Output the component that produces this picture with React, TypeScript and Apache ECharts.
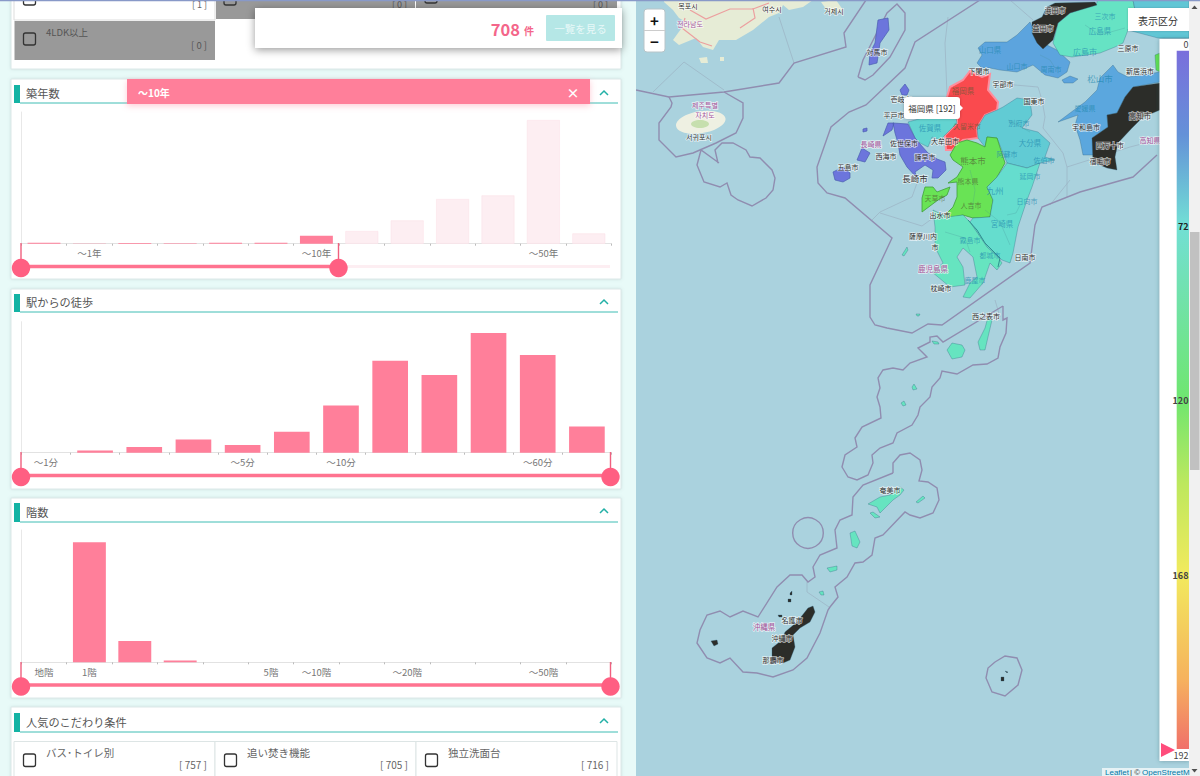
import React, { useEffect, useRef } from "react";
import * as echarts from "echarts";

const JP = '"Noto Sans CJK JP", sans-serif';
const KR = '"Noto Sans CJK KR", sans-serif';

// ---------- bar chart data ----------
const ageCategories = ["", "～1年", "", "", "", "", "～10年", "", "", "", "", "～50年", ""];
const ageValues = [1, 0.3, 0.6, 0.5, 1, 1, 8, 12.7, 23.3, 44.7, 48.3, 123.7, 10.3];
const ageSelectedUpTo = 6;
const walkCategories = ["～1分", "", "", "", "～5分", "", "～10分", "", "", "", "～60分", ""];
const walkValues = [0, 2.3, 5.7, 13.3, 7.7, 21, 47.3, 92, 77.7, 119.7, 97.7, 26.3];
const floorCategories = ["地階", "1階", "", "", "", "5階", "～10階", "", "～20階", "", "", "～50階", ""];
const floorValues = [0, 120, 21.3, 1.7, 0, 0, 0, 0, 0, 0, 0, 0, 0];

// ---------- map data ----------
const prefectureValues = [
  { name: "福岡県", value: 192 }, { name: "佐賀県", value: 66 }, { name: "長崎県", value: 10 },
  { name: "熊本県", value: 122 }, { name: "大分県", value: 62 }, { name: "宮崎県", value: 70 },
  { name: "鹿児島県", value: 78 }, { name: "山口県", value: 44 }, { name: "広島県", value: 76 },
  { name: "愛媛県", value: 46 }, { name: "岡山県", value: 60 }, { name: "香川県", value: 120 },
];
const legendTicks = ["0", "72", "120", "168", "192"];

type P = number[][];
const fukuoka: P[] = [[[970,71],[982,77],[990,74],[988,90],[998,102],[997,110],[985,115],[977,128],[978,138],[963,140],[952,150],[946,150],[945,135],[957,123],[957,112],[947,97],[950,87],[963,80]]];
const saga: P[] = [[[908,122],[933,115],[955,113],[957,123],[945,135],[940,140],[932,137],[928,147],[920,143],[915,138]]];
const nagasaki: P[] = [
  [[893,123],[908,124],[915,138],[920,144],[928,153],[937,159],[945,162],[946,170],[938,178],[932,178],[933,170],[925,165],[915,172],[917,178],[907,167],[900,155],[898,143],[895,133]],
  [[883,136],[888,123],[894,123],[892,130]],
  [[833,172],[843,167],[850,173],[850,178],[843,182],[835,180]],
  [[857,160],[862,148],[870,153],[865,162]],
  [[878,20],[888,18],[889,30],[880,43],[877,63],[869,65],[870,53],[875,43]],
  [[900,90],[905,84],[909,90],[907,95],[902,95]],
  [[863,129],[867,128],[867,131],[863,132]],
];
const oita: P[] = [[[977,128],[985,115],[997,110],[1003,107],[1017,98],[1030,100],[1032,115],[1022,128],[1038,132],[1050,143],[1045,157],[1055,160],[1040,163],[1027,168],[1007,163],[997,138],[987,137],[985,147],[978,138]]];
const kumamoto: P[] = [
  [[957,143],[967,140],[977,143],[985,147],[987,137],[997,138],[1005,163],[997,177],[987,187],[993,200],[990,217],[973,218],[963,215],[948,218],[947,213],[953,207],[957,197],[957,182],[948,183],[957,177],[963,167],[953,160],[950,155]],
  [[925,187],[933,187],[937,192],[950,187],[947,195],[938,200],[922,212],[922,198]],
];
const miyazaki: P[] = [[[1007,163],[1027,168],[1040,163],[1032,187],[1027,200],[1018,227],[1013,253],[1010,263],[1002,260],[998,257],[987,247],[970,222],[973,218],[990,217],[993,200],[987,187],[997,177]]];
const kagoshima: P[] = [
  [[933,210],[947,217],[963,215],[970,222],[987,247],[998,257],[1002,263],[997,270],[990,263],[983,283],[970,298],[963,297],[970,283],[977,277],[973,257],[963,248],[957,257],[963,267],[965,285],[950,287],[932,272],[943,263],[935,247],[935,227]],
  [[902,255],[907,247],[908,250],[904,256]],
  [[980,350],[978,342],[985,328],[988,317],[992,320],[988,337],[985,350]],
  [[947,350],[952,343],[962,345],[965,350],[962,357],[952,359]],
  [[932,341],[938,342],[939,344],[934,344]],
  [[916,314],[920,314],[919,316],[917,316]],
  [[912,387],[914,384],[917,389],[913,390]],
  [[901,403],[904,401],[906,405],[903,406]],
  [[868,504],[880,497],[890,495],[900,487],[904,490],[900,495],[893,500],[885,508],[880,513],[877,507]],
  [[870,513],[873,512],[880,517],[875,518]],
  [[916,502],[923,496],[925,498],[918,503]],
  [[850,533],[855,531],[860,542],[857,548],[852,546]],
  [[827,568],[837,566],[837,570],[830,572]],
  [[819,592],[823,591],[824,595],[821,595]],
];
const yamaguchi: P[] = [
  [[978,48],[985,42],[1007,42],[1017,35],[1030,22],[1038,40],[1047,45],[1057,50],[1070,62],[1067,72],[1058,78],[1045,75],[1033,65],[1017,72],[1000,70],[990,68],[982,68],[977,63],[982,55]],
  [[1062,80],[1070,76],[1078,79],[1073,83],[1064,83]],
];
const hiroshima: P[] = [[[1097,3],[1070,13],[1058,23],[1053,43],[1060,55],[1072,57],[1100,53],[1115,47],[1123,43],[1128,30],[1135,10],[1133,0],[1097,0]]];
const okayama: P[] = [[[1133,0],[1189,0],[1189,38],[1158,38],[1128,30],[1135,10]]];
const kagawa: P[] = [[[1155,55],[1160,53],[1160,72],[1156,70]]];
const ehime: P[] = [[[1100,78],[1113,65],[1118,72],[1128,77],[1142,75],[1160,72],[1160,82],[1133,87],[1125,97],[1117,113],[1107,115],[1108,127],[1092,138],[1097,148],[1093,155],[1083,155],[1080,140],[1075,125],[1078,115],[1058,122],[1070,113],[1085,102],[1097,90]]];
const kochi: P[] = [[[1133,87],[1160,83],[1160,110],[1143,117],[1132,128],[1118,143],[1115,157],[1117,170],[1107,168],[1100,165],[1093,163],[1092,138],[1108,127],[1107,115],[1117,113],[1125,97]]];
const shimane: P[] = [[[1055,3],[1095,2],[1097,5],[1070,13],[1058,23],[1053,40],[1043,49],[1037,43],[1032,33],[1032,22],[1042,17],[1047,7]]];
const okinawa: P[] = [
  [[808,608],[813,606],[815,612],[810,622],[800,628],[793,635],[795,647],[790,660],[783,663],[772,662],[772,648],[782,640],[785,632],[797,622]],
  [[711,641],[717,640],[718,644],[714,646]],
  [[778,615],[782,615],[782,617],[779,617]],
  [[790,593],[792,591],[792,595],[790,595]],
  [[788,599],[791,599],[791,602],[788,602]],
  [[1001,677],[1004,677],[1004,681],[1001,681]],
  [[1005,671],[1008,672],[1007,673]],
];
const regionShapes: Record<string, P[]> = {
  福岡県: fukuoka, 佐賀県: saga, 長崎県: nagasaki, 大分県: oita, 熊本県: kumamoto, 宮崎県: miyazaki,
  鹿児島県: kagoshima, 山口県: yamaguchi, 広島県: hiroshima, 岡山県: okayama, 香川県: kagawa,
  愛媛県: ehime, 高知県: kochi, 島根県: shimane, 沖縄県: okinawa,
};

// Maritime boundaries and base-map lines
const seaLines: number[][][] = [
  [[980,0],[915,42],[905,68],[866,105],[849,112],[831,127],[817,167],[818,183],[827,193],[845,198],[892,238],[870,285],[870,317],[875,325],[887,328],[912,333],[928,324],[942,325],[1030,263],[1035,225],[1042,207],[1080,192],[1133,177],[1157,155]],
  [[1003,306],[1003,320],[1007,318],[1006,333],[1000,347],[998,358],[987,364],[973,365],[957,374],[942,371],[940,378],[932,387],[930,397],[920,407],[918,415],[912,425],[897,433],[893,443],[880,448],[872,455],[873,463],[868,475],[857,480],[848,477],[842,467],[845,455],[857,447],[855,438],[862,427],[881,418],[880,407],[877,397],[880,388],[878,378],[883,370],[893,368],[903,370],[910,363],[927,357],[918,348],[930,342],[930,337],[937,336],[943,342],[1003,306]],
  [[893,473],[893,463],[900,455],[910,453],[920,460],[922,470],[919,481],[928,482],[937,488],[939,500],[933,513],[920,518],[910,515],[905,512],[883,535],[875,538],[872,555],[863,562],[855,563],[847,577],[835,587],[838,597],[830,607],[828,610],[820,633],[807,658],[793,670],[773,677],[757,673],[743,672],[730,658],[720,663],[707,658],[697,643],[700,630],[707,615],[720,611],[730,617],[743,611],[758,617],[777,587],[790,575],[802,575],[808,582],[815,577],[813,567],[820,555],[837,548],[835,530],[840,520],[852,515],[853,497],[863,485],[893,473]],
  [[995,662],[1005,656],[1017,658],[1022,670],[1018,685],[1005,696],[992,692],[986,678],[988,668],[995,662]],
  [[636,90],[669,97],[724,92],[779,83],[794,63],[846,47],[844,33],[866,0]],
  [[669,97],[672,103],[671,107],[659,123],[659,140],[676,157],[693,153],[716,143],[736,133],[743,118],[743,103],[724,92]],
  [[858,77],[863,60],[887,13],[897,4],[905,13],[905,30],[890,57],[873,75],[865,80],[858,77]],
  [[719,163],[701,150],[697,165],[704,182],[720,187],[727,183],[731,195],[738,200],[752,206],[766,198],[773,190],[775,178],[772,170],[760,158],[750,157],[746,150],[733,143],[722,143],[715,150],[718,163]],
];
const thinLines: number[][][] = [
  [[653,92],[684,62],[724,90]],
  [[794,63],[779,17]],
  [[947,95],[945,43],[948,17]],
  [[992,83],[1038,87],[1042,100],[1045,117],[1043,128],[1063,153],[1067,167],[1067,197]],
  [[1067,167],[1130,147],[1157,140]],
  [[917,183],[912,197],[880,212],[872,220]],
  [[880,213],[922,226],[933,218]],
  [[1010,0],[1033,20]],
  [[1000,317],[995,300]],
  [[807,582],[807,592],[829,607]],
  [[1050,205],[1070,180]],
];
const prefectureBorders: number[][][] = [
  [[968,220],[977,230],[985,243],[1000,258],[998,267]],
];
const innerLines: number[][][] = [
  [[1007,215],[1016,213],[1020,205]],
  [[985,210],[1000,222],[1010,245]],
  [[945,232],[965,238],[970,252]],
  [[1008,120],[1030,132]],
  [[970,170],[975,190],[972,210]],
  [[1085,25],[1100,35],[1125,28]],
  [[1040,55],[1050,60],[1055,68]],
];
const circleBoundary = [808, 533, 15.3];

// Base-map land of Korea
const koreaLand: number[][][] = [
  [[664,2],[673,10],[679,18],[686,22],[673,40],[679,45],[696,38],[703,47],[713,50],[719,40],[736,40],[753,30],[769,17],[779,13],[783,5],[789,10],[803,7],[813,0],[664,0]],
  [[821,2],[836,0],[843,10],[829,13]],
  [[699,58],[707,57],[708,63],[701,63]],
  [[720,57],[724,57],[724,61],[720,61]],
];
const koreaRoads: number[][][] = [
  [[690,10],[706,19],[730,9],[753,9],[769,3]],
  [[685,18],[682,28],[700,42],[712,46]],
  [[740,28],[755,18],[753,8]],
];

// Map place names: text, x, y, size, colour class
const placeNames: [string, number, number, number, number][] = [
  ["対馬市",877,52,7,0],["壱岐市",901,99,7,0],["平戸市",894,115,7,0],["長崎県",871,144,7,1],
  ["佐世保市",904,143,7,0],["西海市",886,156,7,0],["諫早市",925,157,7,0],["五島市",848,167,7,0],
  ["長崎市",915,178,8.5,0],["佐賀県",930,127,7.5,2],["久留米市",967,126,7,3],["大牟田市",945,141,7,0],
  ["福岡県",963,90,7.5,3],["宇部市",1003,84,7,0],["下関市",979,71,7,0],["山口県",990,49,7.5,2],
  ["山口市",1017,66,7,2],["周南市",1051,69,7,2],["広島県",1100,30,7.5,2],["広島市",1085,51,8,2],
  ["三次市",1105,16,7,2],["三原市",1128,48,7,0],["新居浜市",1140,71,7,0],["松山市",1100,78,8.5,2],
  ["愛媛県",1085,108,7,2],["宇和島市",1086,127,7,0],["四万十市",1110,145,7,0],["高知市",1140,115,7.5,0],
  ["高知県",1150,140,7,1],["宿毛市",1100,161,7,0],["益田市",1043,28,7,0],["浜田市",1055,10,7,0],
  ["国東市",1034,101,7,0],["別府市",1019,123,7,2],["大分県",1030,142,7.5,2],["阿蘇市",1007,154,7,2],
  ["佐伯市",1044,160,7,2],["延岡市",1030,176,7,2],["九州",995,190,8.5,2],["熊本市",973,160,8.5,3],
  ["熊本県",968,181,7,3],["人吉市",971,205,7,3],["天草市",935,198,7,3],["日向市",1027,201,7,2],
  ["宮崎県",1002,223,7.5,2],["霧島市",970,240,7,2],["都城市",990,255,7,2],["日南市",1025,257,7,0],
  ["出水市",940,215,7,0],["薩摩川内",923,236,7,0],["市",935,247,7,0],["鹿児島県",933,268,7.5,1],
  ["枕崎市",941,288,7,0],["鹿屋市",975,280,7,2],["西之表市",986,316,7,0],["奄美市",890,490,7,0],
  ["沖縄県",764,626,7.5,1],["名護市",792,620,7,0],["沖縄市",782,638,7,0],["那覇市",773,660,7,0],
];
const koreanNames: [string, number, number, number, number][] = [
  ["목포시",688,6,7,0],["전라남도",690,24,7,1],["여수시",772,9,7,0],["거제시",834,11,7,0],
  ["제주특별",705,105,7,1],["자치도",705,115,7,1],["서귀포시",699,137,7,0],
];
const placeColours = ["#333", "#a4549a", "rgba(30,135,175,0.7)", "rgba(80,90,50,0.65)"];

// Filter panel content
const checkCells = [
  { x: 14, label: "バス･トイレ別", count: "[ 757 ]" },
  { x: 215, label: "追い焚き機能", count: "[ 705 ]" },
  { x: 416, label: "独立洗面台", count: "[ 716 ]" },
];
const sections = [
  { title: "築年数", top: 85, h: 18 },
  { title: "駅からの徒歩", top: 294, h: 18 },
  { title: "階数", top: 503, h: 19 },
  { title: "人気のこだわり条件", top: 713, h: 19 },
];
const panels = [[-10, 69], [79, 279], [289, 489], [498, 698], [707, 800]];
const sliders = [
  { y: 266.5, from: 21, to: 338.5, top: 243 },
  { y: 475.5, from: 21, to: 610.5, top: 452 },
  { y: 685, from: 21, to: 610.5, top: 662 },
];

const PINK = "#ff7f9a";
const HANDLE = "#ff5f82";
const TEAL = "#14b3a4";

const rect = (x: number, y: number, w: number, h: number, style: any, z = 1, r: any = 0) => ({
  type: "rect", z, silent: true, shape: { x, y, width: w, height: h, r }, style,
});
const txt = (x: number, y: number, text: string, size: number, fill: string, z = 3, extra: any = {}, family = JP) => ({
  type: "text", z, silent: true,
  style: { x, y, text, font: `${extra.weight || "normal"} ${size}px ${family}`, fill, align: extra.align || "left", verticalAlign: "middle", ...(extra.halo ? { stroke: extra.halo, lineWidth: 1.5 } : {}) },
});
const line = (points: number[][], stroke: string, lineWidth: number, z = 1) => ({
  type: "polyline", z, silent: true, shape: { points }, style: { stroke, lineWidth, fill: "none" },
});

function buildGraphics() {
  const g: any[] = [];
  // map base
  g.push(rect(636, 0, 564, 776, { fill: "#aad2de" }, 0));
  koreaLand.forEach((points) => g.push({ type: "polygon", z: 0, silent: true, shape: { points }, style: { fill: "#e6ecd6" } }));
  g.push({ type: "ellipse", z: 0, silent: true, rotation: 0.16, originX: 701, originY: 122, shape: { cx: 701, cy: 122, rx: 25, ry: 11 }, style: { fill: "#eef0e2" } });
  g.push({ type: "ellipse", z: 0, silent: true, shape: { cx: 700, cy: 124, rx: 9, ry: 4 }, style: { fill: "#c6dfae" } });
  koreaRoads.forEach((p) => g.push(line(p, "#ec9f9f", 1.2, 0)));
  thinLines.forEach((p) => g.push(line(p, "#9db6c6", 0.8, 0)));
  seaLines.forEach((p) => g.push(line(p, "#908db0", 1.4, 0)));
  g.push({ type: "circle", z: 0, silent: true, shape: { cx: circleBoundary[0], cy: circleBoundary[1], r: circleBoundary[2] }, style: { fill: "none", stroke: "#908db0", lineWidth: 1.4 } });
  prefectureBorders.forEach((p) => g.push(line(p, "#2f8f8f", 1, 5)));
  innerLines.forEach((p) => g.push(line(p, "rgba(70,140,150,0.35)", 0.7, 5)));

  // left column panels
  g.push(rect(0, 0, 636, 776, { fill: "#e8faf8" }, 0));
  panels.forEach(([a, b]) => g.push(rect(11, a, 610, b - a, { fill: "#fff", stroke: "#dbe8e8", lineWidth: 1, shadowBlur: 3, shadowColor: "rgba(120,150,150,0.25)" }, 0)));
  sections.forEach((s) => {
    g.push(rect(14, s.top, 6, s.h, { fill: TEAL }, 1));
    g.push(line([[20, s.top + s.h], [618, s.top + s.h]], "#3fbdb4", 1, 1));
    g.push(txt(26, s.top + s.h / 2 - 1, s.title, 11.2, "#555"));
    g.push(line([[600, s.top + 10], [604, s.top + 6], [608, s.top + 10]], "#22b0a6", 1.5, 3));
  });
  // top row of filter cells
  g.push(rect(14, -2, 201, 22, { fill: "#fff", stroke: "#ddd" }, 1));
  g.push(rect(216, -2, 199, 21, { fill: "#999" }, 1));
  g.push(rect(416, -2, 201, 10, { fill: "#999" }, 1));
  g.push(rect(14.5, 21, 200.5, 39, { fill: "#999" }, 1));
  g.push(rect(23.5, -8, 12, 13, { fill: "none", stroke: "#333", lineWidth: 1.3 }, 2, 2));
  g.push(rect(224, -8, 12, 13, { fill: "none", stroke: "#333", lineWidth: 1.3 }, 2, 2));
  g.push(rect(425, -8, 12, 11, { fill: "none", stroke: "#333", lineWidth: 1.3 }, 2, 2));
  g.push(rect(23.5, 33, 12, 12, { fill: "none", stroke: "#333", lineWidth: 1.3 }, 2, 2));
  g.push(txt(46, 32, "4LDK以上", 9.5, "#555"));
  g.push(txt(207, 44.5, "[ 0 ]", 9.5, "#555", 3, { align: "right" }));
  g.push(txt(207, 4.5, "[ 1 ]", 9, "#666", 3, { align: "right" }));
  g.push(txt(407, 4.5, "[ 0 ]", 9, "#555", 3, { align: "right" }));
  g.push(txt(608, 4.5, "[ 0 ]", 9, "#555", 3, { align: "right" }));
  // floating result bar
  g.push(rect(255, 8, 367, 40, { fill: "#fff", shadowBlur: 8, shadowOffsetY: 2, shadowColor: "rgba(0,0,0,0.4)" }, 4));
  g.push(txt(520, 28.5, "708", 16.5, "#f4668a", 5, { align: "right", weight: "bold" }));
  g.push(txt(524, 30, "件", 10, "#f4668a", 5, { weight: "bold" }));
  g.push(rect(546, 15, 69, 26, { fill: "#b5e7e6" }, 5, 1));
  g.push(txt(580.5, 28, "一覧を見る", 10.5, "#e8f8f8", 6, { align: "center" }));
  // ~10年 popup
  g.push(rect(127, 79, 463, 25, { fill: PINK, shadowBlur: 6, shadowOffsetY: 2, shadowColor: "rgba(255,127,154,0.4)" }, 4));
  g.push(txt(138, 92.5, "～10年", 10, "#fff", 5, { weight: "bold" }));
  g.push(txt(573, 92, "×", 13, "#fff", 5, { align: "center", weight: "bold" }));
  // sliders
  sliders.forEach((s) => {
    if (s.to < 600) g.push(rect(s.to, s.y - 1.5, 610 - s.to, 3, { fill: "#fdeef2" }, 3));
    g.push(rect(s.from, s.y - 1.7, s.to - s.from, 3.4, { fill: "#ff7390" }, 3));
    [s.from, s.to].forEach((x) => {
      g.push(rect(x - 0.7, s.top, 1.4, s.y - s.top, { fill: "#f0607f" }, 3));
      g.push({ type: "circle", z: 4, silent: true, shape: { cx: x, cy: s.y + 1.5, r: 9.2 }, style: { fill: HANDLE } });
    });
  });
  // check cells of the last panel
  checkCells.forEach((c) => {
    g.push(rect(c.x, 741.5, 201, 50, { fill: "#fff", stroke: "#dde5e5" }, 1));
    g.push(rect(c.x + 9.5, 754, 12, 12.5, { fill: "none", stroke: "#333", lineWidth: 1.3 }, 2, 2));
    g.push(txt(c.x + 32, 752, c.label, 10.5, "#666"));
    g.push(txt(c.x + 193, 764, c.count, 10, "#666", 3, { align: "right" }));
  });
  // top strip
  g.push(rect(0, 0, 1200, 1.3, { fill: "#8899c8" }, 12));
  // map texts
  placeNames.forEach(([t, x, y, s, c]) => g.push(txt(x, y, t, s, placeColours[c], 6, { align: "center", halo: c === 0 || c === 1 ? "rgba(255,255,255,0.65)" : undefined })));
  koreanNames.forEach(([t, x, y, s, c]) => g.push(txt(x, y, t, s, placeColours[c], 6, { align: "center", halo: "rgba(255,255,255,0.7)" }, KR)));
  // tooltip
  g.push(rect(904, 97, 56, 22, { fill: "#fff", shadowBlur: 3, shadowColor: "rgba(0,0,0,0.25)" }, 7, 3));
  g.push({ type: "polygon", z: 7, silent: true, shape: { points: [[960, 105], [963, 108], [960, 111]] }, style: { fill: "#fff" } });
  g.push(txt(932, 108, "福岡県 [192]", 8.5, "#333", 8, { align: "center" }));
  // zoom control
  g.push(rect(644, 9, 21, 43, { fill: "#fff", stroke: "#b8c4c8", lineWidth: 1 }, 7, 3));
  g.push(line([[644, 30.5], [665, 30.5]], "#ccc", 1, 8));
  g.push(txt(654.5, 20, "+", 15, "#111", 8, { align: "center", weight: "bold" }));
  g.push(txt(654.5, 41, "−", 15, "#111", 8, { align: "center", weight: "bold" }));
  // legend panel
  g.push(rect(1128, 8, 61, 23, { fill: "#fff", shadowBlur: 2, shadowColor: "rgba(0,0,0,0.2)" }, 7));
  g.push(txt(1158, 20, "表示区分", 10, "#333", 8, { align: "center" }));
  g.push(rect(1159.5, 39, 30, 722, { fill: "#fff", shadowBlur: 4, shadowColor: "rgba(40,80,90,0.4)" }, 7));
  g.push(rect(1176.7, 50.7, 12.3, 698.3, {
    fill: new echarts.graphic.LinearGradient(0, 0, 0, 1, [
      { offset: 0, color: "#7a6fdc" }, { offset: 0.12, color: "#6491d8" }, { offset: 0.25, color: "#72dfd5" },
      { offset: 0.5, color: "#6fe66f" }, { offset: 0.62, color: "#bde85e" }, { offset: 0.75, color: "#f2ea5e" },
      { offset: 0.9, color: "#f6b25e" }, { offset: 1, color: "#f0706a" },
    ]),
  }, 8));
  const legendY = [44, 226, 400, 575, 755];
  legendTicks.forEach((t, i) => g.push(txt(1188.5, legendY[i], t, 9, i === 1 ? "#222" : "#444", 9, { align: "right", weight: i > 0 && i < 4 ? "bold" : "normal" })));
  g.push({ type: "polygon", z: 9, silent: true, shape: { points: [[1161, 743], [1175, 750], [1161, 757]] }, style: { fill: "#ff4d7c" } });
  // scrollbar
  g.push(rect(1189, 0, 11, 776, { fill: "#f1f1f1" }, 10));
  g.push(rect(1190, 232, 9.5, 238, { fill: "#c1c1c1" }, 11));
  g.push({ type: "polygon", z: 11, silent: true, shape: { points: [[1191.5, 9], [1194.5, 5.5], [1197.5, 9]] }, style: { fill: "#505050" } });
  g.push({ type: "polygon", z: 11, silent: true, shape: { points: [[1191.5, 769], [1194.5, 772.5], [1197.5, 769]] }, style: { fill: "#505050" } });
  // attribution
  g.push(rect(1102, 768, 87, 8, { fill: "rgba(255,255,255,0.7)" }, 9));
  g.push(txt(1105, 772.5, "Leaflet", 8, "#0078A8", 10, {}, '"Liberation Sans", sans-serif'));
  g.push(txt(1130, 772.5, "| ©", 8, "#333", 10, {}, '"Liberation Sans", sans-serif'));
  g.push(txt(1142, 772.5, "OpenStreetM", 8, "#0078A8", 10, {}, '"Liberation Sans", sans-serif'));
  return g;
}

const axisLabel = { interval: 0, fontSize: 9.5, color: "#777", margin: 5, fontFamily: JP };
const grids = [
  { left: 21.3, width: 590.2, top: 112, height: 131.7 },
  { left: 21.3, width: 590.2, top: 321.7, height: 131 },
  { left: 21.3, width: 590.2, top: 530, height: 132.3 },
];
const xAxisOf = (gridIndex: number, data: string[]) => ({
  type: "category", gridIndex, data, boundaryGap: true,
  axisLine: { lineStyle: { color: "#e2e2e2" } },
  axisTick: { show: true, interval: 0, length: 2, lineStyle: { color: "#bbb" } },
  axisLabel, splitLine: { show: false },
});
const yAxisOf = (gridIndex: number) => ({
  type: "value", gridIndex, min: 0, max: grids[gridIndex].height,
  axisLine: { show: true, lineStyle: { color: "#e8e8e8" } },
  axisTick: { show: false }, axisLabel: { show: false }, splitLine: { show: false },
});

const regionStyle = (name: string) => {
  if (name === "福岡県") return { borderColor: "#ff8d9c", borderWidth: 2 };
  if (name === "熊本県") return { borderColor: "#3f9f3a", borderWidth: 0.8 };
  if (name === "長崎県") return { borderColor: "#4a5fb0", borderWidth: 0.7 };
  return {};
};

export default function App() {
  const ref = useRef<HTMLDivElement>(null);
  useEffect(() => {
    document.body.style.margin = "0";
    const features = Object.keys(regionShapes).map((name) => ({
      type: "Feature", properties: { name },
      geometry: { type: "MultiPolygon", coordinates: regionShapes[name].map((ring) => [ring.map(([x, y]) => [x, -y])]) },
    }));
    echarts.registerMap("kyushu", { type: "FeatureCollection", features } as any);
    const chart = echarts.init(ref.current!, undefined, { renderer: "svg" });
    chart.setOption({
      animation: false,
      backgroundColor: "#e8faf8",
      textStyle: { fontFamily: JP },
      grid: grids,
      xAxis: [xAxisOf(0, ageCategories), xAxisOf(1, walkCategories), xAxisOf(2, floorCategories)],
      yAxis: [yAxisOf(0), yAxisOf(1), yAxisOf(2)],
      visualMap: {
        show: false, type: "continuous", min: 0, max: 192, seriesIndex: 3,
        inRange: { color: ["#7068dc", "#6688dc", "#5aaade", "#66e2cc", "#66e89c", "#62e254", "#b6e85a", "#f2e858", "#fa4a4e"] },
      },
      series: [
        {
          type: "bar", xAxisIndex: 0, yAxisIndex: 0, barWidth: "72.5%", silent: true,
          data: ageValues.map((value, i) => ({
            value,
            itemStyle: i <= ageSelectedUpTo ? { color: PINK } : { color: "#fdeef2", borderColor: "#fbe3e9", borderWidth: 0.6 },
          })),
        },
        { type: "bar", xAxisIndex: 1, yAxisIndex: 1, barWidth: "72.5%", silent: true, data: walkValues, itemStyle: { color: PINK } },
        { type: "bar", xAxisIndex: 2, yAxisIndex: 2, barWidth: "72.5%", silent: true, data: floorValues, itemStyle: { color: PINK } },
        {
          type: "map", map: "kyushu", silent: true, roam: false, aspectScale: 1, z: 2,
          boundingCoords: [[636, 0], [1200, -776]],
          left: 636, top: 0, width: 564, height: 776,
          label: { show: false },
          itemStyle: { areaColor: "#2c2d29", borderColor: "rgba(45,95,125,0.45)", borderWidth: 0.7 },
          data: prefectureValues.map((d) => ({ ...d, itemStyle: regionStyle(d.name) })),
        },
      ],
      graphic: { elements: buildGraphics() },
    });
    return () => chart.dispose();
  }, []);
  return <div ref={ref} style={{ position: "fixed", left: 0, top: 0, width: 1200, height: 776 }} />;
}
